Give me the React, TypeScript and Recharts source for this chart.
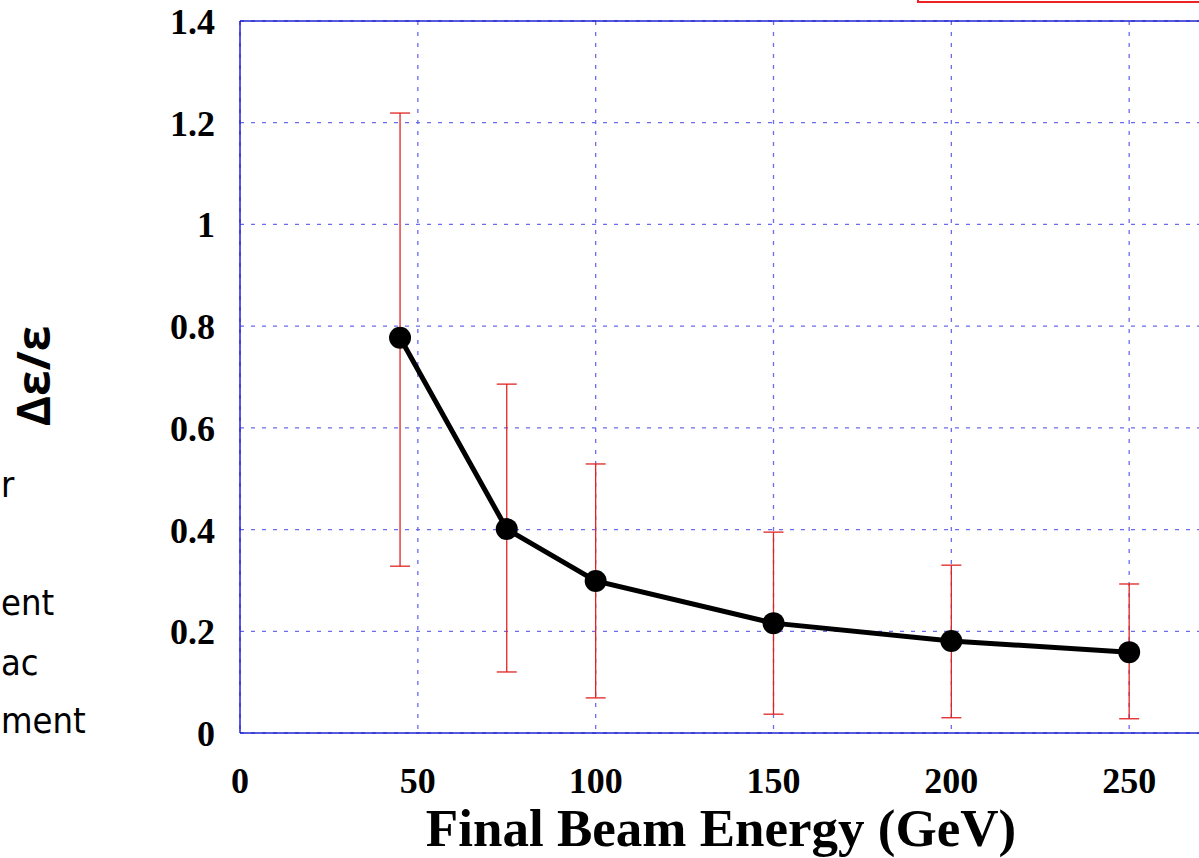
import {
  CartesianGrid,
  ErrorBar,
  Line,
  LineChart,
  ReferenceLine,
  XAxis,
  YAxis,
} from "recharts";

const energies = [45, 75, 100, 150, 200, 250];
const emittanceGrowth = [0.777, 0.401, 0.299, 0.216, 0.181, 0.159];
const errorMinus = [0.449, 0.281, 0.23, 0.179, 0.151, 0.131];
const errorPlus = [0.442, 0.285, 0.23, 0.179, 0.149, 0.134];

const xTicks = [0, 50, 100, 150, 200, 250];
const yTicks = [0, 0.2, 0.4, 0.6, 0.8, 1, 1.2, 1.4];

// cropped slide text on the left edge
const sideWords = ["r", "ent", "ac", "ment"];

const data = energies.map((energy, i) => ({
  energy,
  growth: emittanceGrowth[i],
  err: [errorMinus[i], errorPlus[i]],
}));

const SERIF = "'Liberation Serif', 'Times New Roman', serif";
const SANS = "'Open Sans', 'Noto Sans', sans-serif";
const NARROW = "'Liberation Sans Narrow', 'DejaVu Sans Condensed', sans-serif";
const GRID_BLUE = "#6b6bef";
const AXIS_BLUE = "#2323d0";

const YTick = ({ x, y, payload }: any) => (
  <text
    x={x}
    y={y}
    dy={13}
    textAnchor="end"
    fontFamily={SERIF}
    fontWeight={700}
    fontSize={36}
    fill="#000"
  >
    {String(payload.value)}
  </text>
);

const XTick = ({ x, y, payload }: any) => (
  <text
    x={x}
    y={y}
    dy={60}
    textAnchor="middle"
    fontFamily={SERIF}
    fontWeight={700}
    fontSize={36}
    fill="#000"
  >
    {String(payload.value)}
  </text>
);

export default function App() {
  return (
    <div
      style={{
        position: "fixed",
        left: 0,
        top: 0,
        width: 1199,
        height: 858,
        overflow: "hidden",
        background: "#fff",
      }}
    >
      <LineChart
        width={1307}
        height={858}
        data={data}
        margin={{ top: 21, right: 0, bottom: 0, left: 0 }}
      >
        <CartesianGrid
          stroke={GRID_BLUE}
          strokeDasharray="4 7"
          strokeWidth={1.3}
          verticalValues={xTicks}
          horizontalValues={yTicks}
        />
        <XAxis
          type="number"
          dataKey="energy"
          domain={[0, 300]}
          ticks={xTicks}
          height={125}
          tickSize={0}
          tickMargin={0}
          tickLine={false}
          axisLine={{ stroke: AXIS_BLUE, strokeWidth: 1.5 }}
          tick={<XTick />}
          label={{
            content: ({ viewBox }: any) => (
              <text
                x={viewBox.x + 481}
                y={viewBox.y + 113}
                textAnchor="middle"
                fontFamily={SERIF}
                fontWeight={700}
                fontSize={53}
                fill="#000"
              >
                Final Beam Energy (GeV)
              </text>
            ),
          }}
        />
        <YAxis
          type="number"
          domain={[0, 1.4]}
          ticks={yTicks}
          width={240}
          tickSize={0}
          tickMargin={25}
          tickLine={false}
          axisLine={{ stroke: AXIS_BLUE, strokeWidth: 1.5 }}
          tick={<YTick />}
          label={{
            content: () => (
              <text
                x={50}
                y={376}
                transform="rotate(-90, 50, 376)"
                textAnchor="middle"
                fontFamily={SANS}
                fontWeight={700}
                fontSize={46}
                fill="#000"
              >
                Δε/ε
              </text>
            ),
          }}
        />
        <ReferenceLine y={1.4} stroke={AXIS_BLUE} strokeWidth={1.5} />
        <Line
          type="linear"
          dataKey="growth"
          stroke="#000"
          strokeWidth={5}
          dot={{ r: 11, fill: "#000", stroke: "#000", strokeWidth: 0 }}
          isAnimationActive={false}
        >
          <ErrorBar
            dataKey="err"
            direction="y"
            width={10}
            stroke="#e02424"
            strokeWidth={1.3}
          />
        </Line>
      </LineChart>

      <svg
        width={240}
        height={858}
        style={{ position: "absolute", left: 0, top: 0 }}
      >
        {sideWords.map((w, i) => (
          <text
            key={w}
            x={1}
            y={[497, 615, 675, 733][i]}
            textAnchor="start"
            fontFamily={NARROW}
            fontSize={36}
            fill="#000"
          >
            {w}
          </text>
        ))}
      </svg>

      <div
        style={{
          position: "absolute",
          left: 917,
          top: -40,
          width: 320,
          height: 43,
          border: "2px solid #ee2222",
          boxSizing: "border-box",
        }}
      />
    </div>
  );
}
